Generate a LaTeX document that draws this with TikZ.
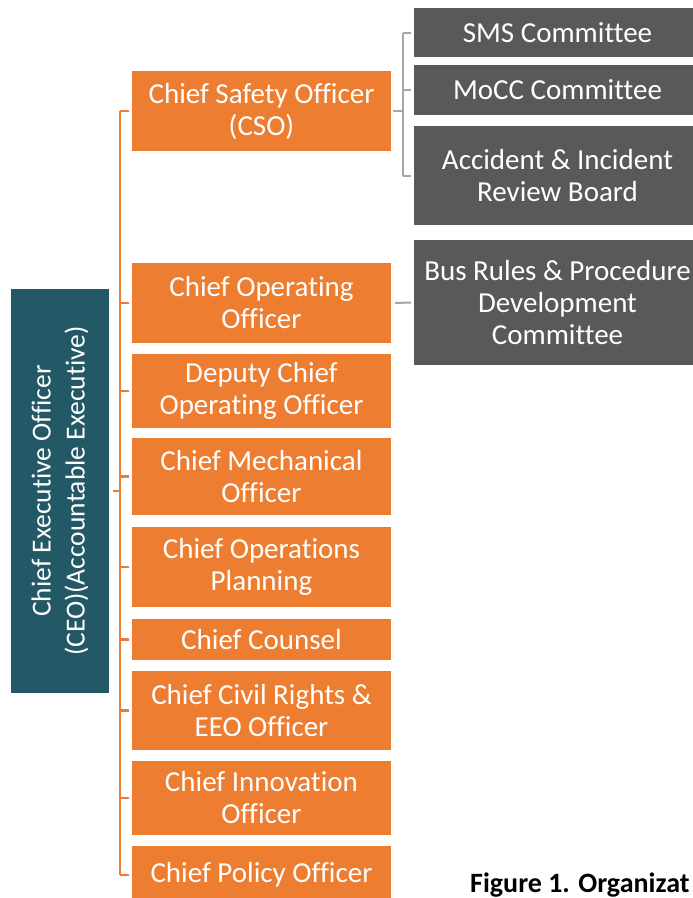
\documentclass[tikz,border=0pt]{standalone}
\usepackage{fontspec}
\setmainfont{Carlito}[Ligatures=NoCommon]
\definecolor{orgfill}{HTML}{ED7D31}
\definecolor{ceofill}{HTML}{235866}
\definecolor{boxgray}{HTML}{595959}
\definecolor{linkgray}{HTML}{A6A6A6}
\begin{document}
\begin{tikzpicture}[x=1pt,y=-1pt,
  box/.style={rectangle, inner sep=0pt, align=center, text=white,
              font=\fontsize{29}{32}\selectfont},
  orangebox/.style={box, fill=orgfill, minimum width=259pt},
  graybox/.style={box, fill=boxgray, minimum width=287pt},
  ceobox/.style={box, fill=ceofill, rotate=90, minimum width=404pt,
                 minimum height=98pt, font=\fontsize{27.5}{34}\selectfont},
  orgline/.style={draw=orgfill, line width=2.2pt},
  grayline/.style={draw=linkgray, line width=2pt},
  caption/.style={anchor=base west, inner sep=0pt,
                  font=\fontsize{28}{32}\selectfont\bfseries}]
\useasboundingbox (0,0) rectangle (693,898);
\clip (0,0) rectangle (693,898);

% chief executive
\node[ceobox] (ceo) at (60,491) {Chief Executive Officer\\(CEO)(Accountable Executive)};

% direct reports
\node[orangebox, minimum height=80pt] (cso)  at (261.5,111)   {Chief Safety Officer\\(CSO)};
\node[orangebox, minimum height=80pt] (coo)  at (261.5,303)   {Chief Operating\\Officer};
\node[orangebox, minimum height=74pt] (dcoo) at (261.5,391)   {Deputy Chief\\Operating Officer};
\node[orangebox, minimum height=77pt] (cmo)  at (261.5,476.5) {Chief Mechanical\\Officer};
\node[orangebox, minimum height=80pt] (cop)  at (261.5,567)   {Chief Operations\\Planning};
\node[orangebox, minimum height=41pt] (cc)   at (261.5,639.5) {Chief Counsel};
\node[orangebox, minimum height=79pt] (ccr)  at (261.5,710.5) {Chief Civil Rights \&\\EEO Officer};
\node[orangebox, minimum height=74pt] (cio)  at (261.5,798)   {Chief Innovation\\Officer};
\node[orangebox, minimum height=58pt] (cpo)  at (261.5,875)   {Chief Policy Officer};

% committees
\node[graybox, minimum height=49pt]  (sms) at (557.5,32.5)  {SMS Committee};
\node[graybox, minimum height=50pt]  (mocc) at (557.5,90)   {MoCC Committee};
\node[graybox, minimum height=99pt]  (arb) at (557.5,175.5) {Accident \& Incident\\Review Board};
\node[graybox, minimum height=125pt] (bus) at (557.5,302.5) {Bus Rules \& Procedure\\Development\\Committee};

\node[caption] (cap) at (470,892) {Figure 1. Organizat};

% orange bracket
\coordinate (spine) at (120,491);
\draw[orgline] (spine |- cso.west) -- (spine |- cpo.west);
\draw[orgline, shorten <=4pt] (ceo.south) -- (spine |- ceo.south);
\foreach \n in {cso,coo,dcoo,cmo,cop,cc,ccr,cio,cpo}
  \draw[orgline, shorten >=3pt] (spine |- \n.west) -- (\n.west);

% gray bracket
\coordinate (gspine) at (403,111);
\draw[grayline] (gspine |- sms.west) -- (gspine |- arb.west);
\draw[grayline, shorten <=2pt] (cso.east) -- (gspine |- cso.east);
\foreach \n in {sms,mocc,arb}
  \draw[grayline, shorten >=3pt] (gspine |- \n.west) -- (\n.west);
\draw[grayline, shorten <=4pt, shorten >=3pt] (coo.east) -- (bus.west);
\end{tikzpicture}
\end{document}
